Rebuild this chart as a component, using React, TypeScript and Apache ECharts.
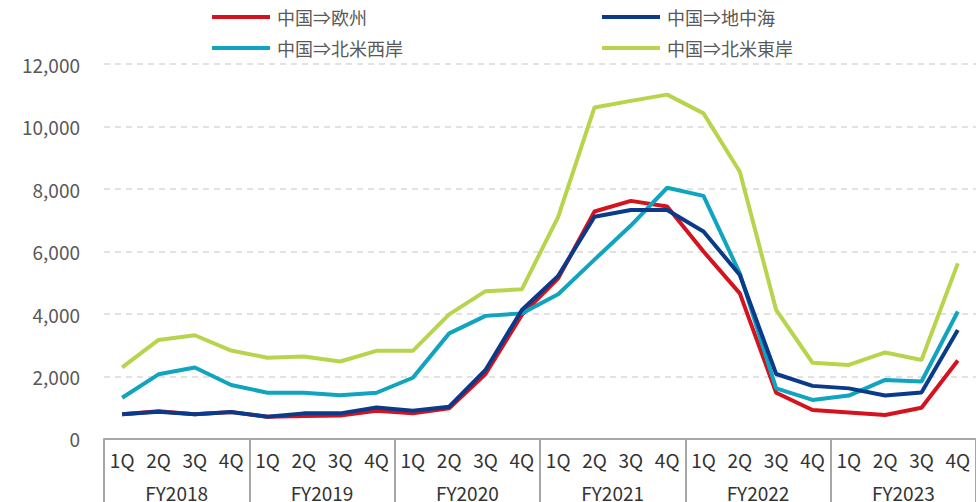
import React, { useEffect, useRef } from "react";
import * as echarts from "echarts";

const quarters = [
  "1Q", "2Q", "3Q", "4Q", "1Q", "2Q", "3Q", "4Q", "1Q", "2Q", "3Q", "4Q",
  "1Q", "2Q", "3Q", "4Q", "1Q", "2Q", "3Q", "4Q", "1Q", "2Q", "3Q", "4Q",
];
const fiscalYears = ["FY2018", "FY2019", "FY2020", "FY2021", "FY2022", "FY2023"];

const seriesNames = ["中国⇒欧州", "中国⇒地中海", "中国⇒北米西岸", "中国⇒北米東岸"];
const seriesColors = ["#d5121e", "#0a3a8a", "#10a4bf", "#b6d54c"];

const europe = [
  790, 890, 790, 860, 715, 735, 755, 905, 820, 980, 2080, 3970,
  5140, 7280, 7620, 7440, 6000, 4660, 1480, 930, 850, 770, 1000, 2510,
];
const mediterranean = [
  790, 875, 790, 865, 715, 820, 820, 1010, 905, 1035, 2210, 4130,
  5220, 7110, 7330, 7330, 6640, 5250, 2080, 1700, 1620, 1390, 1490, 3490,
];
const usWest = [
  1320, 2070, 2290, 1730, 1480, 1480, 1400, 1480, 1960, 3380, 3940, 4020,
  4630, 5740, 6830, 8040, 7780, 5300, 1620, 1250, 1390, 1890, 1840, 4080,
];
const usEast = [
  2290, 3170, 3320, 2830, 2600, 2640, 2480, 2820, 2820, 3990, 4730, 4790,
  7110, 10610, 10820, 11020, 10420, 8550, 4130, 2440, 2370, 2770, 2530, 5620,
];

const seriesData = [europe, mediterranean, usWest, usEast];

const FONT = "'Noto Sans CJK JP', 'Noto Sans', sans-serif";
const TEXT_COLOR = "#595959";
const AXIS_COLOR = "#a6a6a6";

export default function App() {
  const ref = useRef<HTMLDivElement>(null);

  useEffect(() => {
    document.body.style.margin = "0";
    if (!ref.current) return;
    const chart = echarts.init(ref.current, undefined, { renderer: "svg" });

    const legendBase = {
      orient: "vertical" as const,
      top: 2,
      padding: 5,
      icon: "rect",
      itemWidth: 58,
      itemHeight: 4,
      itemGap: 11,
      textStyle: {
        fontFamily: FONT,
        fontSize: 18,
        color: TEXT_COLOR,
        lineHeight: 20,
        padding: [0, 0, 0, 2],
      },
    };

    chart.setOption({
      animation: false,
      textStyle: { fontFamily: FONT },
      legend: [
        { ...legendBase, left: 207, data: [seriesNames[0], seriesNames[2]] },
        { ...legendBase, left: 597, data: [seriesNames[1], seriesNames[3]] },
      ],
      grid: { left: 104, top: 64, width: 874, height: 375, containLabel: false },
      xAxis: [
        {
          type: "category",
          data: quarters,
          boundaryGap: true,
          axisLine: { show: true, lineStyle: { color: AXIS_COLOR, width: 2 } },
          axisTick: { show: false },
          axisLabel: {
            interval: 0,
            margin: 11,
            fontFamily: FONT,
            fontSize: 19,
            color: "#333333",
          },
        },
        {
          type: "category",
          data: fiscalYears,
          position: "bottom",
          boundaryGap: true,
          axisLine: { show: false },
          axisTick: {
            show: true,
            interval: 0,
            length: 70,
            lineStyle: { color: AXIS_COLOR, width: 2 },
          },
          axisLabel: {
            interval: 0,
            margin: 44,
            fontFamily: FONT,
            fontSize: 19,
            color: "#333333",
          },
        },
      ],
      yAxis: {
        type: "value",
        min: 0,
        max: 12000,
        interval: 2000,
        axisLine: { show: false },
        axisTick: { show: false },
        splitLine: {
          show: true,
          lineStyle: { color: "#d9d9d9", type: [6, 5], width: 1.5 },
        },
        axisLabel: {
          margin: 24,
          fontFamily: FONT,
          fontSize: 19,
          color: TEXT_COLOR,
          formatter: (v: number) => v.toLocaleString("en-US"),
        },
      },
      series: seriesNames.map((name, i) => ({
        name,
        type: "line",
        xAxisIndex: 0,
        data: seriesData[i],
        symbol: "none",
        color: seriesColors[i],
        lineStyle: { width: 4, color: seriesColors[i] },
        z: 2 + (i === 1 ? 1 : 0),
      })),
    });

    return () => chart.dispose();
  }, []);

  return (
    <div
      ref={ref}
      style={{ position: "absolute", left: 0, top: 0, width: 976, height: 502 }}
    />
  );
}
